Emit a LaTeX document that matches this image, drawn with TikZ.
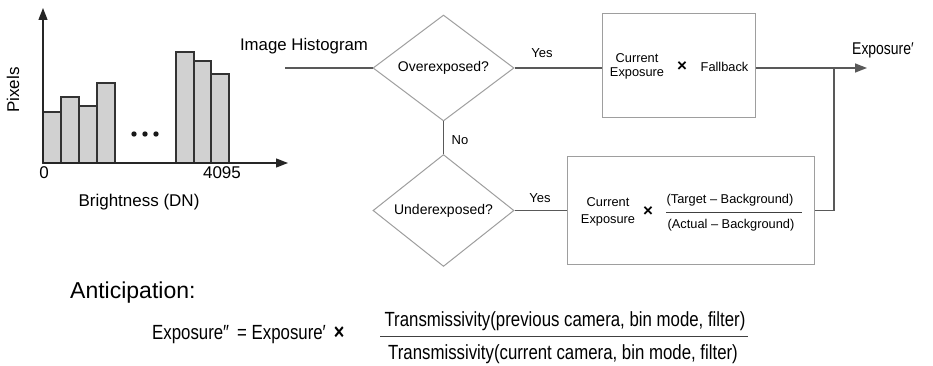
\documentclass[tikz,border=0pt]{standalone}
\usepackage{fontspec}
\setmainfont{Liberation Sans}
\newfontfamily\narrowsf[FakeStretch=0.82]{Liberation Sans}
\usetikzlibrary{shapes.geometric,arrows.meta}

\begin{document}
\begin{tikzpicture}[x=1pt,y=-1pt,
  axisline/.style={draw=black!85,line width=1.3pt,-{Triangle[length=12pt,width=9pt]}},
  histbar/.style={draw=black!80,fill=black!18,line width=1.1pt},
  decision/.style={diamond,draw=black!38,line width=1pt,minimum width=141pt,
    minimum height=106pt,inner sep=0pt,font=\fontsize{14}{16}\selectfont},
  stepbox/.style={rectangle,draw=black!38,line width=1pt,inner sep=0pt},
  flow/.style={draw=black!65,line width=1.5pt},
  outarrow/.style={flow,-{Triangle[length=12pt,width=9pt]}},
  lbl/.style={font=\fontsize{13}{15}\selectfont,inner sep=0pt},
  boxtext/.style={font=\fontsize{12.8}{14}\selectfont,inner sep=0pt,align=center},
  timessign/.style={font=\fontsize{17}{19}\selectfont\bfseries,inner sep=0pt},
  histlabel/.style={font=\fontsize{17}{19}\selectfont,inner sep=0pt},
  eqtext/.style={font=\narrowsf\fontsize{20.5}{23}\selectfont,inner sep=0pt},
]
\useasboundingbox (0,0) rectangle (933,366);

% ---- histogram ----
\draw[histbar] (43,163) rectangle (61,112);
\draw[histbar] (61,163) rectangle (79,97);
\draw[histbar] (79,163) rectangle (97,106);
\draw[histbar] (97,163) rectangle (115,83);
\draw[histbar] (176,163) rectangle (194,52);
\draw[histbar] (194,163) rectangle (211,61);
\draw[histbar] (211,163) rectangle (229,74);
\coordinate (origin) at (43,163);
\coordinate (ytip) at (43,8);
\coordinate (xtip) at (288,163);
\draw[axisline] (origin) -- (ytip);
\draw[axisline] (origin) -- (xtip);
\foreach \dx in {134,145,156} \fill[black!90] (\dx,134) circle (2.7);
\node[histlabel] (zero) at (44,173) {0};
\node[histlabel] (maxdn) at (222,173) {4095};
\node[histlabel] (xlab) at (139,202) {Brightness (DN)};
\node[histlabel,rotate=90] (ylab) at (13,90) {Pixels};

% ---- decision flow ----
\node[font=\fontsize{16.8}{19}\selectfont,inner sep=0pt] (inlab) at (304,46) {Image Histogram};
\coordinate (in) at (285,68);
\node[decision] (d1) at (443.5,68) {Overexposed?};
\node[decision] (d2) at (443.5,210.5) {Underexposed?};
\node[stepbox,minimum width=153pt,minimum height=104pt] (b1) at (678.5,66) {};
\node[stepbox,minimum width=247pt,minimum height=107pt] (b2) at (690.5,210.5) {};
\coordinate (jn) at (834,68);
\coordinate (out) at (867,68);

\draw[flow] (in) -- (d1.west);
\draw[flow] (d1.east) -- (d1.east -| b1.west);
\draw[flow] (d1.south) -- (d2.north);
\draw[flow] (d2.east) -- (d2.east -| b2.west);
\draw[outarrow] (b1.east |- jn) -- (out);
\draw[flow] (b2.east) -| (jn);

\node[lbl] (yes1) at (542,53) {Yes};
\node[lbl] (no1) at (460,140) {No};
\node[lbl] (yes2) at (540,198) {Yes};
\node[font=\narrowsf\fontsize{17}{19}\selectfont,inner sep=0pt,anchor=west] (outlab) at (852,50) {Exposure′};

% box 1: fallback
\node[boxtext] (cur1) at (637,66.5) {Current\\Exposure};
\node[timessign] (x1) at (682,67) {×};
\node[boxtext] (fb) at (724.5,67) {Fallback};

% box 2: ratio correction
\node[boxtext,font=\fontsize{12.8}{16.5}\selectfont] (cur2) at (608,212) {Current\\Exposure};
\node[timessign] (x2) at (648,212) {×};
\node[boxtext] (num2) at (730,200) {(Target – Background)};
\node[boxtext] (den2) at (731,225.5) {(Actual – Background)};
\draw[black!75,line width=1.1pt] (666,212.5) -- (802,212.5);

% ---- anticipation ----
\node[font=\fontsize{23}{26}\selectfont,inner sep=0pt,anchor=west] (ant) at (70,293) {Anticipation:};
\node[eqtext,anchor=west] (lhs) at (152,335) {Exposure″\, = Exposure′ \,{\fontsize{22}{24}\selectfont\textbf{×}}};
\node[eqtext] (num3) at (565,321) {Transmissivity(previous camera, bin mode, filter)};
\node[eqtext] (den3) at (563,354) {Transmissivity(current camera, bin mode, filter)};
\draw[black!75,line width=1.2pt] (380,336.5) -- (748,336.5);
\end{tikzpicture}
\end{document}
